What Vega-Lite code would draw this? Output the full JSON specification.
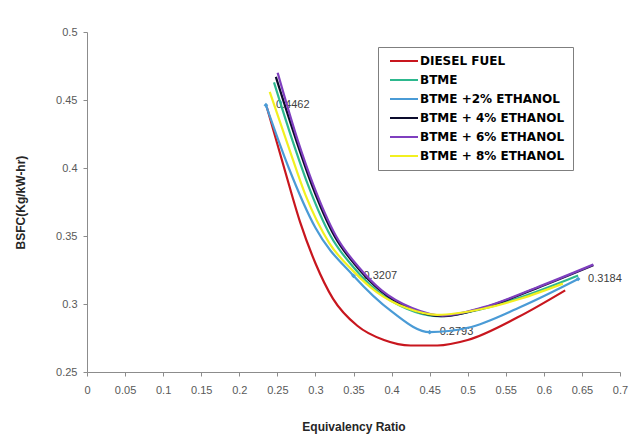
{
  "$schema": "https://vega.github.io/schema/vega-lite/v6.json",
  "autosize": "none",
  "width": 533,
  "height": 340,
  "padding": {"left": 87, "top": 32, "right": 18, "bottom": 74},
  "background": "white",
  "config": {
    "view": {"stroke": null},
    "font": "Liberation Sans",
    "axis": {"grid": false, "domainColor": "#8c8c8c", "tickColor": "#8c8c8c", "tickSize": 4, "labelColor": "#595959", "labelFont": "Liberation Sans", "labelFontSize": 11, "titleFont": "Liberation Sans", "titleFontSize": 12, "titleFontWeight": "bold", "titleColor": "#262626", "labelOverlap": false}
  },
  "datasets": {
    "curves": [
      {"series": "DIESEL FUEL", "er": 0.236, "bsfc": 0.445},
      {"series": "DIESEL FUEL", "er": 0.26, "bsfc": 0.398},
      {"series": "DIESEL FUEL", "er": 0.28, "bsfc": 0.36},
      {"series": "DIESEL FUEL", "er": 0.30, "bsfc": 0.33},
      {"series": "DIESEL FUEL", "er": 0.323, "bsfc": 0.304},
      {"series": "DIESEL FUEL", "er": 0.355, "bsfc": 0.284},
      {"series": "DIESEL FUEL", "er": 0.39, "bsfc": 0.2735},
      {"series": "DIESEL FUEL", "er": 0.425, "bsfc": 0.2695},
      {"series": "DIESEL FUEL", "er": 0.46, "bsfc": 0.2695},
      {"series": "DIESEL FUEL", "er": 0.50, "bsfc": 0.2735},
      {"series": "DIESEL FUEL", "er": 0.565, "bsfc": 0.29},
      {"series": "DIESEL FUEL", "er": 0.628, "bsfc": 0.31},
      {"series": "BTME", "er": 0.2456, "bsfc": 0.463},
      {"series": "BTME", "er": 0.27, "bsfc": 0.42},
      {"series": "BTME", "er": 0.29, "bsfc": 0.388},
      {"series": "BTME", "er": 0.32, "bsfc": 0.35},
      {"series": "BTME", "er": 0.35, "bsfc": 0.327},
      {"series": "BTME", "er": 0.38, "bsfc": 0.31},
      {"series": "BTME", "er": 0.42, "bsfc": 0.2965},
      {"series": "BTME", "er": 0.46, "bsfc": 0.291},
      {"series": "BTME", "er": 0.52, "bsfc": 0.2965},
      {"series": "BTME", "er": 0.58, "bsfc": 0.307},
      {"series": "BTME", "er": 0.645, "bsfc": 0.321},
      {"series": "BTME +2% ETHANOL", "er": 0.235, "bsfc": 0.4462},
      {"series": "BTME +2% ETHANOL", "er": 0.265, "bsfc": 0.4},
      {"series": "BTME +2% ETHANOL", "er": 0.30, "bsfc": 0.356},
      {"series": "BTME +2% ETHANOL", "er": 0.35, "bsfc": 0.3207},
      {"series": "BTME +2% ETHANOL", "er": 0.40, "bsfc": 0.2945},
      {"series": "BTME +2% ETHANOL", "er": 0.45, "bsfc": 0.2793},
      {"series": "BTME +2% ETHANOL", "er": 0.50, "bsfc": 0.2825},
      {"series": "BTME +2% ETHANOL", "er": 0.57, "bsfc": 0.298},
      {"series": "BTME +2% ETHANOL", "er": 0.645, "bsfc": 0.3184},
      {"series": "BTME + 4% ETHANOL", "er": 0.248, "bsfc": 0.467},
      {"series": "BTME + 4% ETHANOL", "er": 0.275, "bsfc": 0.42},
      {"series": "BTME + 4% ETHANOL", "er": 0.295, "bsfc": 0.388},
      {"series": "BTME + 4% ETHANOL", "er": 0.325, "bsfc": 0.35},
      {"series": "BTME + 4% ETHANOL", "er": 0.355, "bsfc": 0.327},
      {"series": "BTME + 4% ETHANOL", "er": 0.385, "bsfc": 0.31},
      {"series": "BTME + 4% ETHANOL", "er": 0.425, "bsfc": 0.2965},
      {"series": "BTME + 4% ETHANOL", "er": 0.465, "bsfc": 0.291},
      {"series": "BTME + 4% ETHANOL", "er": 0.52, "bsfc": 0.297},
      {"series": "BTME + 4% ETHANOL", "er": 0.59, "bsfc": 0.3115},
      {"series": "BTME + 4% ETHANOL", "er": 0.665, "bsfc": 0.3285},
      {"series": "BTME + 6% ETHANOL", "er": 0.2504, "bsfc": 0.47},
      {"series": "BTME + 6% ETHANOL", "er": 0.277, "bsfc": 0.42},
      {"series": "BTME + 6% ETHANOL", "er": 0.297, "bsfc": 0.388},
      {"series": "BTME + 6% ETHANOL", "er": 0.327, "bsfc": 0.35},
      {"series": "BTME + 6% ETHANOL", "er": 0.357, "bsfc": 0.327},
      {"series": "BTME + 6% ETHANOL", "er": 0.387, "bsfc": 0.31},
      {"series": "BTME + 6% ETHANOL", "er": 0.427, "bsfc": 0.297},
      {"series": "BTME + 6% ETHANOL", "er": 0.467, "bsfc": 0.2915},
      {"series": "BTME + 6% ETHANOL", "er": 0.52, "bsfc": 0.2975},
      {"series": "BTME + 6% ETHANOL", "er": 0.59, "bsfc": 0.312},
      {"series": "BTME + 6% ETHANOL", "er": 0.665, "bsfc": 0.329},
      {"series": "BTME + 8% ETHANOL", "er": 0.24, "bsfc": 0.456},
      {"series": "BTME + 8% ETHANOL", "er": 0.265, "bsfc": 0.415},
      {"series": "BTME + 8% ETHANOL", "er": 0.287, "bsfc": 0.38},
      {"series": "BTME + 8% ETHANOL", "er": 0.318, "bsfc": 0.345},
      {"series": "BTME + 8% ETHANOL", "er": 0.35, "bsfc": 0.324},
      {"series": "BTME + 8% ETHANOL", "er": 0.38, "bsfc": 0.309},
      {"series": "BTME + 8% ETHANOL", "er": 0.42, "bsfc": 0.297},
      {"series": "BTME + 8% ETHANOL", "er": 0.46, "bsfc": 0.292},
      {"series": "BTME + 8% ETHANOL", "er": 0.52, "bsfc": 0.2965},
      {"series": "BTME + 8% ETHANOL", "er": 0.57, "bsfc": 0.304},
      {"series": "BTME + 8% ETHANOL", "er": 0.625, "bsfc": 0.315}
    ],
    "labelled": [
      {"series": "BTME +2% ETHANOL", "er": 0.235, "bsfc": 0.4462},
      {"series": "BTME +2% ETHANOL", "er": 0.35, "bsfc": 0.3207},
      {"series": "BTME +2% ETHANOL", "er": 0.45, "bsfc": 0.2793},
      {"series": "BTME +2% ETHANOL", "er": 0.645, "bsfc": 0.3184}
    ]
  },
  "encoding": {
    "x": {"field": "er", "type": "quantitative", "title": "Equivalency Ratio",
      "scale": {"domain": [0, 0.7], "nice": false, "zero": false},
      "axis": {"values": [0, 0.05, 0.1, 0.15, 0.2, 0.25, 0.3, 0.35, 0.4, 0.45, 0.5, 0.55, 0.6, 0.65, 0.7], "format": "~g", "labelPadding": 8, "titlePadding": 26, "labelFlush": false, "labelOverlap": false, "labelBound": false}},
    "y": {"field": "bsfc", "type": "quantitative", "title": "BSFC(Kg/kW-hr)",
      "scale": {"domain": [0.25, 0.5], "nice": false, "zero": false},
      "axis": {"values": [0.25, 0.3, 0.35, 0.4, 0.45, 0.5], "format": "~g", "labelPadding": 6, "titlePadding": 28, "labelOverlap": false}}
  },
  "layer": [
    {
      "data": {"name": "labelled"},
      "mark": {"type": "text", "align": "left", "baseline": "middle", "dx": 10, "fontSize": 11, "color": "#404040", "font": "Liberation Sans"},
      "encoding": {
        "text": {"field": "bsfc", "type": "quantitative", "format": ".4f"}
      }
    },
    {
      "data": {"name": "curves"},
      "mark": {"type": "line", "interpolate": "monotone", "strokeWidth": 2.2},
      "encoding": {
        "color": {"field": "series", "type": "nominal",
          "scale": {"domain": ["DIESEL FUEL", "BTME", "BTME +2% ETHANOL", "BTME + 4% ETHANOL", "BTME + 6% ETHANOL", "BTME + 8% ETHANOL"],
            "range": ["#C8161E", "#2DB88E", "#4A9BD6", "#0C0C2C", "#7F3FBF", "#F2F020"]},
          "legend": {"title": null, "orient": "none", "legendX": 291, "legendY": 15, "symbolType": "M-2.8,0H2.8", "symbolSize": 100, "symbolStrokeWidth": 2, "symbolOffset": 12, "labelOffset": 10, "labelFontSize": 12, "labelFontWeight": "bold", "labelColor": "#000000", "labelFont": "DejaVu Sans", "rowPadding": 7, "padding": 8, "strokeColor": "#7f7f7f", "fillColor": "white", "labelLimit": 300}},
        "order": {"field": "er", "type": "quantitative"}
      }
    },
    {
      "data": {"name": "labelled"},
      "mark": {"type": "point", "shape": "diamond", "filled": true, "size": 22, "color": "#4A9BD6", "opacity": 1}
    }
  ]
}
